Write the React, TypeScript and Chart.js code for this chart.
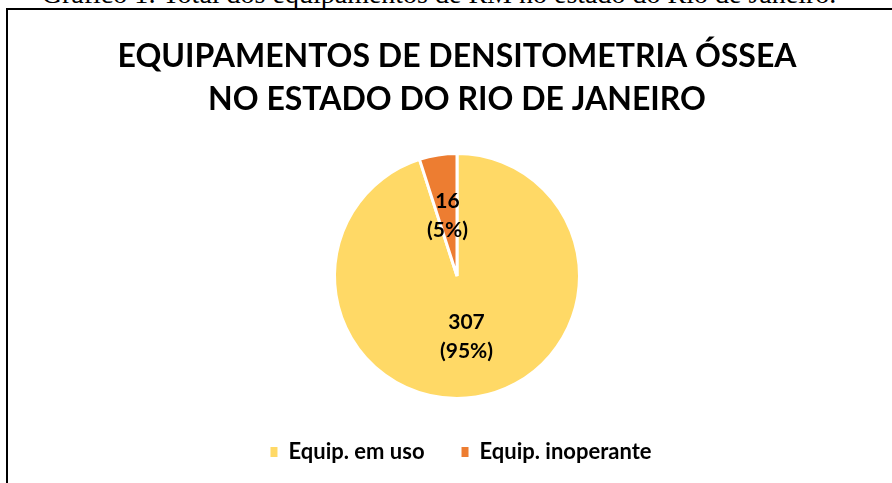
import React, { useEffect, useRef } from "react";
import { Chart, registerables } from "chart.js";

Chart.register(...registerables);

// ---- data ----
const categories = ["Equip. em uso", "Equip. inoperante"];
const counts = [307, 16];
const sliceColors = ["#FFD966", "#ED7D31"];
const titleLines = ["EQUIPAMENTOS DE DENSITOMETRIA ÓSSEA", "NO ESTADO DO RIO DE JANEIRO"];
const caption = "Gráfico 1: Total dos equipamentos de RM no estado do Rio de Janeiro.";

// ---- layout / style ----
const CANVAS_W = 896;
const CANVAS_H = 473;
const FONT = "Lato, 'Open Sans', sans-serif";
const TEXT_SX = 1.0;
const LEGEND_DX = 4;
const LABEL_SIZE = 21;
const LEGEND_SIZE = 22;

const total = counts.reduce((a, b) => a + b, 0);
const percents = counts.map((v) => Math.round((v / total) * 100) + "%");

const stretchPlugin = {
  id: "stretchText",
  afterLayout(chart: any) {
    const lg = chart.legend;
    if (lg) {
      lg.left += LEGEND_DX;
      lg.right += LEGEND_DX;
    }
  },
  beforeDraw(chart: any) {
    const ctx = chart.ctx;
    ctx.save();
    const cx = chart.width / 2;
    ctx.translate(cx, 0);
    ctx.scale(TEXT_SX, 1);
    ctx.translate(-cx, 0);
  },
  beforeDatasetsDraw(chart: any) {
    chart.ctx.restore();
  },
};

const labelPlugin = {
  id: "sliceLabels",
  afterDatasetsDraw(chart: any) {
    const meta = chart.getDatasetMeta(0);
    const ctx = chart.ctx;
    meta.data.forEach((arc: any, i: number) => {
      const p = arc.tooltipPosition();
      ctx.save();
      ctx.font = `bold ${LABEL_SIZE}px ${FONT}`;
      ctx.fillStyle = "#000";
      ctx.textAlign = "center";
      ctx.textBaseline = "middle";
      ctx.translate(p.x, p.y);
      ctx.scale(TEXT_SX, 1);
      ctx.fillText(String(counts[i]), 0, -14);
      ctx.fillText(`(${percents[i]})`, 0, 14.5);
      ctx.restore();
    });
  },
};

export default function App() {
  const ref = useRef<HTMLCanvasElement | null>(null);

  useEffect(() => {
    if (!ref.current) return;
    const baseGen =
      (Chart as any).overrides?.pie?.plugins?.legend?.labels?.generateLabels ||
      (Chart as any).overrides?.doughnut?.plugins?.legend?.labels?.generateLabels;
    // legend: itemHeight = LEGEND_SIZE, padding 37, +10 -> text centre at y 452
    const legendBottomPad = CANVAS_H + 10 - 452 - 10 - LEGEND_SIZE / 2;
    const legendHeight = LEGEND_SIZE + 37 + 10;
    const areaBottom = CANVAS_H - legendBottomPad - legendHeight; // canvas coords
    const centreY = 276 - 10;
    const areaTop = 2 * centreY - areaBottom;
    const titleBottomPad = areaTop - 25 - 86;
    const chart = new Chart(ref.current, {
      type: "pie",
      data: {
        labels: categories,
        datasets: [
          {
            data: counts,
            backgroundColor: sliceColors,
            borderColor: "#FFFFFF",
            borderWidth: 3,
          },
        ],
      },
      options: {
        responsive: false,
        animation: false,
        radius: 122.5,
        layout: { padding: { top: 0, bottom: legendBottomPad, left: 0, right: 0 } },
        plugins: {
          tooltip: { enabled: false },
          title: {
            display: true,
            text: titleLines,
            color: "#000",
            font: { family: FONT, size: 32, weight: "bold", lineHeight: "43px" },
            padding: { top: 25, bottom: titleBottomPad },
          },
          legend: {
            display: true,
            position: "bottom",
            labels: {
              color: "#000",
              boxWidth: 7,
              boxHeight: 10,
              padding: 37,
              font: { family: FONT, size: LEGEND_SIZE, weight: "bold" },
              generateLabels: (c: any) => {
                const items = baseGen ? baseGen(c) : [];
                return items.map((it: any) => ({ ...it, lineWidth: 0, fontColor: "#000" }));
              },
            },
          },
        },
      } as any,
      plugins: [stretchPlugin, labelPlugin],
    });
    return () => chart.destroy();
  }, []);

  return (
    <div
      style={{
        position: "fixed",
        left: 0,
        top: 0,
        width: 892,
        height: 483,
        overflow: "hidden",
        background: "#fff",
      }}
    >
      <div
        style={{
          position: "absolute",
          left: -7,
          top: -21,
          width: 892,
          textAlign: "center",
          fontFamily: "'Liberation Serif', 'Times New Roman', serif",
          fontSize: 28,
          lineHeight: "30px",
          whiteSpace: "nowrap",
          color: "#000",
        }}
      >
        {caption}
      </div>
      <div
        style={{
          position: "absolute",
          left: 6,
          top: 8,
          width: 1000,
          height: 1000,
          borderLeft: "2px solid #000",
          borderTop: "2px solid #000",
        }}
      />
      <div style={{ position: "absolute", left: 9, top: 10, width: CANVAS_W, height: CANVAS_H }}>
        <canvas ref={ref} width={CANVAS_W} height={CANVAS_H} />
      </div>
    </div>
  );
}
